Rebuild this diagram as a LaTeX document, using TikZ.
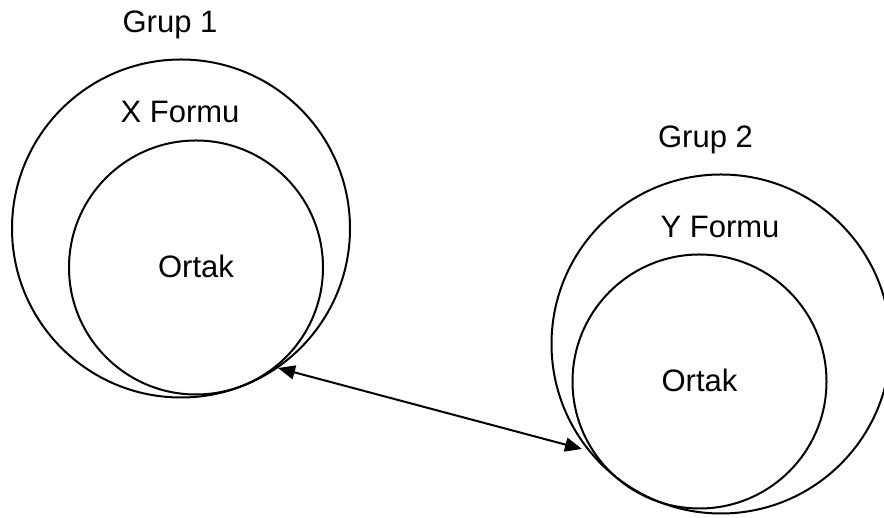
\documentclass[tikz,border=0pt]{standalone}
\usepackage{fontspec}
\setmainfont{Liberation Sans}
\usetikzlibrary{arrows.meta}
\begin{document}
\begin{tikzpicture}[x=1pt,y=1pt,
  ring/.style={circle,draw,line width=2pt,inner sep=0pt},
  lbl/.style={anchor=base,inner sep=0pt,font=\fontsize{31}{36}\selectfont},
  link/.style={line width=2pt,{Triangle[length=17pt,width=14pt]}-{Triangle[length=17pt,width=14pt]}}]
\useasboundingbox (0,0) rectangle (884,518);
\clip (0,0) rectangle (884,518);
\node[ring,minimum size=338pt] (g1) at (181,289.5) {};
\node[ring,minimum size=254pt] (o1) at (196,250.5) {};
\node[ring,minimum size=339pt] (g2) at (721,174) {};
\node[ring,minimum size=254pt] (o2) at (699.5,136.5) {};
\node[lbl] (t1) at (170,485.5) {Grup 1};
\node[lbl] (x1) at (180,395) {X Formu};
\node[lbl] (c1) at (196,240) {Ortak};
\node[lbl] (t2) at (705.5,370) {Grup 2};
\node[lbl] (y2) at (720,280) {Y Formu};
\node[lbl] (c2) at (699.5,126) {Ortak};
\coordinate (a1) at (278,150);
\coordinate (a2) at (582,69);
\draw[link] (a1) -- (a2);
\end{tikzpicture}
\end{document}
